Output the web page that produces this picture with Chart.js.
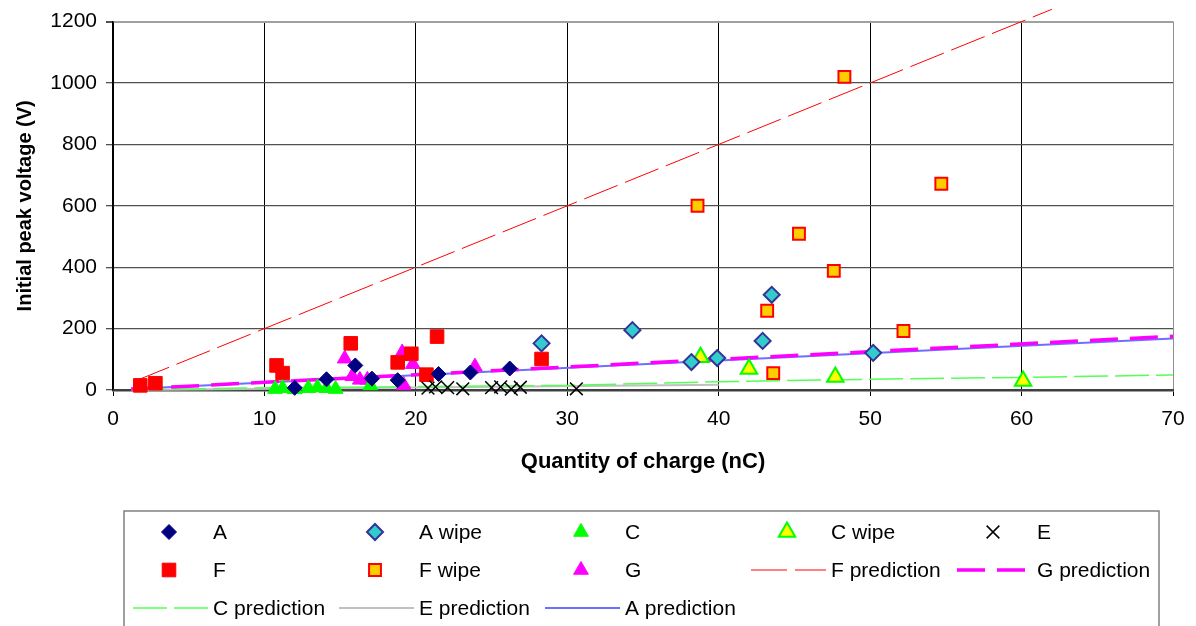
<!DOCTYPE html>
<html>
<head>
<meta charset="utf-8">
<script src="https://cdn.jsdelivr.net/npm/chart.js@4.4.1/dist/chart.umd.min.js"></script>
<style>
html,body{margin:0;padding:0;background:#fff;}
</style>
</head>
<body>
<canvas id="chart" width="1196" height="626"></canvas>
<script>
const aX = [12.0, 14.1, 16.0, 17.1, 18.8, 21.5, 23.6, 26.2];
const aY = [7, 35, 80, 37, 32, 52, 57, 70];
const aWipeX = [28.3, 34.3, 38.2, 39.9, 42.9, 43.5, 50.2];
const aWipeY = [152, 195, 91, 104, 160, 310, 121];
const cX = [10.7, 11.2, 12.0, 12.9, 13.5, 14.1, 14.7, 17.0];
const cY = [3, 6, 2, 6, 8, 6, 3, 15];
const cWipeX = [38.8, 42.0, 47.7, 60.1];
const cWipeY = [107, 68, 42, 29];
const eX = [20.8, 21.3, 22.1, 23.1, 25.0, 25.6, 26.3, 26.9, 30.6];
const eY = [6, 10, 8, 4, 8, 10, 3, 9, 4];
const fX = [1.8, 2.8, 10.8, 11.2, 15.7, 18.8, 19.7, 20.7, 21.4, 28.3];
const fY = [15, 22, 80, 55, 152, 90, 118, 50, 174, 101];
const fWipeX = [38.6, 43.2, 43.6, 45.3, 47.6, 48.3, 52.2, 54.7];
const fWipeY = [600, 258, 55, 509, 388, 1020, 192, 672];
const gX = [15.3, 15.8, 16.3, 16.8, 19.1, 19.2, 19.8, 23.9];
const gY = [102, 45, 33, 33, 122, 16, 84, 76];

// prediction lines
const fPredX = [1.5, 62];
const fPredY = [30, 1240];
const gPredX = [1.2, 70];
const gPredY = [3, 175];
const cPredX = [1.2, 10, 20, 30, 40, 50, 60, 70];
const cPredY = [1, 7, 11, 15, 27, 35, 41, 49];
const ePredX = [1.2, 20, 40];
const ePredY = [0, 8, 17];
const aPredX = [1.2, 70];
const aPredY = [3, 168];

const xTicks = [0, 10, 20, 30, 40, 50, 60, 70];
const yTicks = [0, 200, 400, 600, 800, 1000, 1200];

function pts(xs, ys) {
  return xs.map((x, i) => ({x: x, y: ys[i]}));
}

function markerSet(label, xs, ys, style, radius, fill, border, bw) {
  return {
    label: label, data: pts(xs, ys), showLine: false, order: 0, clip: false,
    pointStyle: style, pointRadius: radius, pointHoverRadius: radius,
    pointBackgroundColor: fill, pointBorderColor: border, pointBorderWidth: bw
  };
}
function lineSet(label, xs, ys, color, width, dash) {
  return {
    label: label, data: pts(xs, ys), showLine: true, order: 1, clip: false,
    borderColor: color, borderWidth: width, borderDash: dash,
    pointRadius: 0, pointHoverRadius: 0, tension: 0
  };
}

Chart.defaults.font.family = "'Liberation Sans', Arial, sans-serif";
Chart.defaults.color = '#000';

const datasets = [
  markerSet('A', aX, aY, 'rectRot', 7.5, '#000080', '#000080', 1),
  markerSet('A wipe', aWipeX, aWipeY, 'rectRot', 8, '#33CCCC', '#333399', 2),
  markerSet('C', cX, cY, 'triangle', 8.5, '#00FF00', '#00FF00', 1),
  markerSet('C wipe', cWipeX, cWipeY, 'triangle', 9.5, '#FFFF00', '#00FF00', 2),
  markerSet('E', eX, eY, 'crossRot', 9, '#000', '#000', 1.5),
  markerSet('F', fX, fY, 'rect', 9.6, '#FF0000', '#FF0000', 1),
  markerSet('F wipe', fWipeX, fWipeY, 'rect', 8.4, '#FFCC00', '#FF0000', 2),
  markerSet('G', gX, gY, 'triangle', 8.5, '#FF00FF', '#FF00FF', 1),
  lineSet('F prediction', fPredX, fPredY, '#FF0000', 1, [36, 8]),
  lineSet('G prediction', gPredX, gPredY, '#FF00FF', 3.5, [28, 12]),
  lineSet('C prediction', cPredX, cPredY, '#55FF55', 1.5, [34, 7]),
  lineSet('E prediction', ePredX, ePredY, '#C0C0C0', 2, []),
  lineSet('A prediction', aPredX, aPredY, '#6F6FFF', 2, [])
];

// grid legend under the plot, five columns like the original
const gridLegend = {
  id: 'gridLegend',
  afterDraw(chart) {
    const ctx = chart.ctx;
    const colX = [169, 375, 581, 787, 993];
    const rowY = [532, 570, 608];
    ctx.save();
    ctx.strokeStyle = '#808080';
    ctx.lineWidth = 1.5;
    ctx.strokeRect(124, 511, 1035, 200);
    ctx.font = "21px 'Liberation Sans', Arial, sans-serif";
    ctx.textBaseline = 'middle';
    ctx.textAlign = 'left';
    chart.data.datasets.forEach((ds, i) => {
      const cx = colX[i % 5];
      const cy = rowY[Math.floor(i / 5)];
      if (ds.showLine) {
        ctx.save();
        ctx.strokeStyle = ds.borderColor;
        ctx.lineWidth = ds.borderWidth;
        ctx.setLineDash(ds.borderDash || []);
        ctx.beginPath();
        ctx.moveTo(cx - 36, cy);
        ctx.lineTo(cx + 39, cy);
        ctx.stroke();
        ctx.restore();
      } else {
        ctx.save();
        ctx.fillStyle = ds.pointBackgroundColor;
        ctx.strokeStyle = ds.pointBorderColor;
        ctx.lineWidth = ds.pointBorderWidth;
        Chart.helpers.drawPoint(ctx, {
          pointStyle: ds.pointStyle, radius: ds.pointRadius,
          rotation: 0, borderWidth: ds.pointBorderWidth
        }, cx, cy);
        ctx.restore();
      }
      ctx.fillStyle = '#000';
      ctx.fillText(ds.label, cx + 44, cy + 1);
    });
    ctx.restore();
  }
};

new Chart(document.getElementById('chart'), {
  type: 'scatter',
  data: {datasets: datasets},
  options: {
    responsive: false,
    animation: false,
    events: [],
    layout: {padding: {left: 0, top: 21, right: 23, bottom: 151}},
    plugins: {legend: {display: false}, tooltip: {enabled: false}},
    scales: {
      x: {
        type: 'linear', min: 0, max: 70,
        afterBuildTicks: s => { s.ticks = xTicks.map(v => ({value: v})); },
        afterFit: s => { s.height = 85; },
        ticks: {font: {size: 21}, padding: 11, color: '#000', callback: v => String(v)},
        grid: {
          color: c => (c.tick && c.tick.value === 70) ? '#909090' : '#000',
          lineWidth: 1, tickLength: 6, tickColor: '#000'
        },
        border: {color: '#404040', width: 2.5},
        title: {
          display: true, text: 'Quantity of charge (nC)', color: '#000',
          font: {size: 22, weight: 'bold'}, padding: {top: 0, bottom: 0}
        }
      },
      y: {
        type: 'linear', min: 0, max: 1200,
        afterBuildTicks: s => { s.ticks = yTicks.map(v => ({value: v})); },
        afterFit: s => { s.width = 113; },
        ticks: {font: {size: 21}, padding: 9, color: '#000', callback: v => String(v)},
        grid: {
          color: c => (c.tick && c.tick.value === 1200) ? '#a0a0a0' : '#505050',
          lineWidth: c => (c.tick && c.tick.value === 1200) ? 2 : 1.3,
          tickLength: 7, tickColor: '#505050'
        },
        border: {color: '#000', width: 1.5},
        title: {
          display: true, text: 'Initial peak voltage (V)', color: '#000',
          font: {size: 20, weight: 'bold'}, padding: {top: 13, bottom: 13}
        }
      }
    }
  },
  plugins: [gridLegend]
});
</script>
</body>
</html>
